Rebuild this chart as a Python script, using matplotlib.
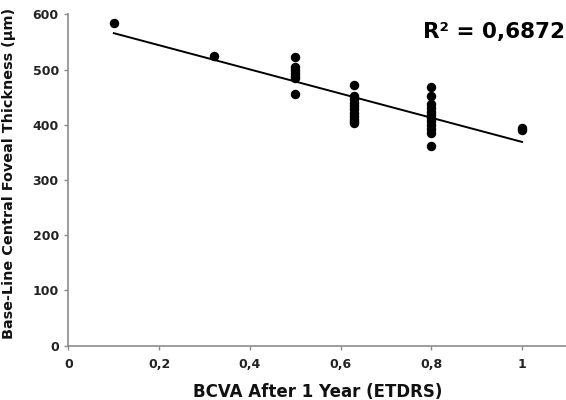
import numpy as np
import matplotlib
matplotlib.use("Agg")
import matplotlib.pyplot as plt

# BCVA after 1 year (ETDRS) vs base-line central foveal thickness (um)
bcva = [0.1, 0.32,
        0.5, 0.5, 0.5, 0.5, 0.5, 0.5, 0.5,
        0.63, 0.63, 0.63, 0.63, 0.63, 0.63, 0.63, 0.63, 0.63, 0.63, 0.63,
        0.8, 0.8, 0.8, 0.8, 0.8, 0.8, 0.8, 0.8, 0.8, 0.8, 0.8, 0.8,
        1.0, 1.0]
thickness = [585, 525,
             523, 505, 499, 493, 488, 484, 455,
             472, 452, 446, 440, 434, 428, 422, 416, 411, 407, 404,
             469, 453, 437, 430, 424, 418, 412, 406, 399, 393, 386, 361,
             395, 391]

# linear trend line as drawn (ends)
trend_x = [0.1, 1.0]
trend_y = [566, 369]

r2_text = "R² = 0,6872"
xticks = [0, 0.2, 0.4, 0.6, 0.8, 1.0]
xticklabels = ["0", "0,2", "0,4", "0,6", "0,8", "1"]
yticks = [0, 100, 200, 300, 400, 500, 600]

plt.rcParams['font.family'] = ['DejaVu Sans']

fig = plt.figure(figsize=(5.66, 4.0), dpi=100)
ax = fig.add_axes([0.121, 0.136, 0.879, 0.828])

ax.plot(bcva, thickness, 'o', color='black', markersize=5.8, zorder=3)
ax.plot(trend_x, trend_y, '-', color='black', linewidth=1.4, zorder=2)

ax.set_xlim(0, 1.097)
ax.set_ylim(0, 600)
ax.set_xticks(xticks)
ax.set_xticklabels(xticklabels)
ax.set_yticks(yticks)

grey = '#8c8c8c'
for side in ['top', 'right']:
    ax.spines[side].set_visible(False)
for side in ['left', 'bottom']:
    ax.spines[side].set_color(grey)
    ax.spines[side].set_linewidth(1.2)
ax.tick_params(axis='both', colors=grey, length=3, width=1.0, labelcolor='#222222', labelsize=9)
ax.tick_params(axis='x', pad=6)
ax.tick_params(axis='y', pad=4)
for lab in ax.get_xticklabels() + ax.get_yticklabels():
    lab.set_fontweight('bold')

ax.set_xlabel("BCVA After 1 Year (ETDRS)", fontsize=12, fontweight='bold', color='#111111')
ax.xaxis.set_label_coords(0.5, -0.113)
ax.set_ylabel("Base-Line Central Foveal Thickness (µm)", fontsize=10.4, fontweight='bold', color='#111111')
ax.yaxis.set_label_coords(-0.105, 0.52)

ax.text(0.997, 0.947, r2_text, transform=ax.transAxes, ha='right', va='center',
        fontsize=15.5, fontweight='bold', color='black')

fig.savefig("out.png", dpi=100)
